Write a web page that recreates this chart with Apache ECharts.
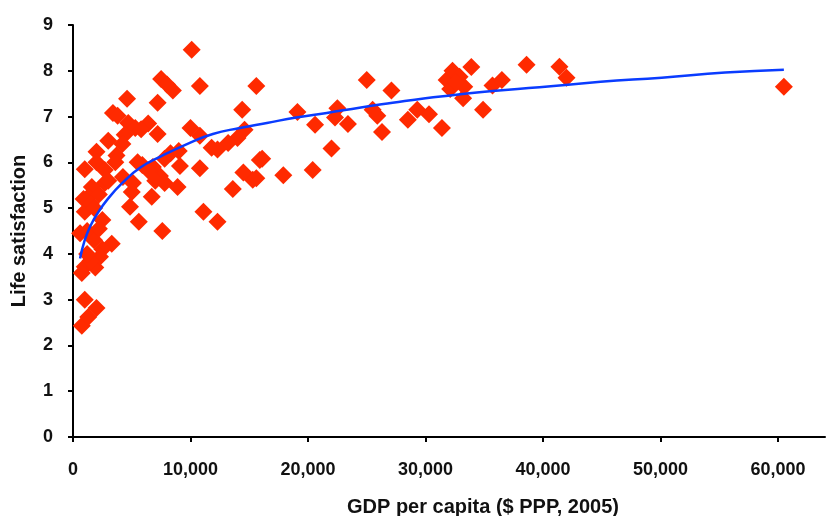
<!DOCTYPE html>
<html>
<head>
<meta charset="utf-8">
<script src="https://cdn.jsdelivr.net/npm/echarts@6/dist/echarts.min.js"></script>
<style>
  html, body { margin: 0; padding: 0; background: #fff; }
  #chart { width: 827px; height: 516px; }
</style>
</head>
<body>
<div id="chart"></div>
<script>
// countries: GDP per capita and life satisfaction
const gdp = [
  10100, 10800, 15600, 7500, 8000, 8500, 4600, 7200, 3400, 3800,
  14400, 6400, 4700, 5300, 5800, 7200, 4400, 3000, 10000, 10800,
  14600, 14000, 13200, 11800, 12300, 2000, 2000, 3700, 1000, 3600,
  5500, 6800, 7800, 9100, 10800, 16100, 17900, 13600, 15300, 14500,
  7400, 7800, 8900, 6700, 5100, 5000, 4850, 5600, 7600, 11100,
  12300, 3300, 2700, 2700, 1600, 1300, 900, 1000, 600, 2500,
  2500, 1000, 750, 1900, 1000, 2000, 750, 1300, 4250, 5900,
  2300, 1500, 25000, 27100, 19100, 20600, 22500, 22300, 23400, 25500,
  25900, 26300, 28500, 29300, 30300, 31400, 22000, 15900, 20400, 15600,
  31800, 32300, 32900, 33900, 33300, 32100, 33200, 38600, 41400, 42000,
  35700, 36500, 34900, 60500, 32600, 1200, 1800, 1500, 2200, 3000,
  8300, 9000, 6500, 7000, 1800, 4200, 1200, 2200
];
const lifeSat = [
  8.46, 7.67, 7.67, 7.82, 7.7, 7.57, 7.39, 7.3, 7.08, 7.02,
  7.15, 6.85, 6.86, 6.75, 6.72, 6.62, 6.6, 6.47, 6.75, 6.58,
  6.71, 6.53, 6.42, 6.32, 6.28, 6.23, 6.0, 6.15, 5.85, 6.0,
  6.0, 5.9, 6.08, 5.92, 5.87, 6.08, 5.72, 5.42, 5.62, 5.78,
  5.7, 5.55, 5.46, 5.25, 5.55, 5.35, 5.03, 4.7, 4.5, 4.92,
  4.7, 4.22, 5.83, 5.55, 5.46, 5.24, 5.2, 4.92, 4.45, 4.74,
  4.1, 3.72, 3.58, 3.7, 3.0, 2.82, 2.43, 2.62, 5.68, 5.94,
  3.94, 3.85, 7.8, 7.57, 7.1, 6.82, 7.18, 6.98, 6.84, 7.15,
  7.02, 6.66, 6.93, 7.15, 7.05, 6.75, 6.3, 6.05, 5.83, 5.65,
  7.8, 8.0, 7.87, 8.08, 7.65, 7.6, 7.4, 8.13, 8.09, 7.85,
  7.68, 7.8, 7.15, 7.65, 7.75, 4.5, 4.3, 5.1, 5.3, 5.6,
  6.2, 6.25, 5.8, 5.6, 5.0, 6.4, 4.0, 4.55
];

// trend line, points
const fitGdp = [600, 1000, 1500, 2100, 2900, 4200, 5700, 7400, 9700, 11900,
  14200, 16500, 19000, 21600, 24500, 27200, 30000, 32100, 35700, 39700,
  44900, 50100, 55500, 60500];
const fitSat = [3.9, 4.3, 4.62, 4.89, 5.18, 5.55, 5.88, 6.12, 6.4, 6.62,
  6.75, 6.86, 6.98, 7.08, 7.2, 7.3, 7.4, 7.46, 7.56, 7.64,
  7.76, 7.85, 7.96, 8.02];

const xTicks = [0, 10000, 20000, 30000, 40000, 50000, 60000];

const chart = echarts.init(document.getElementById("chart"));
const font = "'Liberation Sans', Arial, sans-serif";
const axisLine = { lineStyle: { color: "#000", width: 2 } };

chart.setOption({
  animation: false,
  grid: { left: 73, right: 2, top: 25, bottom: 79, outerBoundsMode: "none" },
  xAxis: {
    type: "value",
    min: 0,
    max: 64000,
    interval: 10000,
    splitLine: { show: false },
    axisLine: axisLine,
    axisTick: { customValues: xTicks, length: 5, lineStyle: { color: "#000", width: 2 } },
    axisLabel: {
      customValues: xTicks,
      margin: 24,
      color: "#111",
      fontFamily: font,
      fontWeight: "bold",
      fontSize: 18,
      formatter: (v) => v.toLocaleString("en-US"),
    },
    name: "GDP per capita ($ PPP, 2005)",
    nameLocation: "middle",
    nameGap: 60,
    nameTextStyle: {
      color: "#111",
      fontFamily: font,
      fontWeight: "bold",
      fontSize: 20,
      padding: [0, 0, 0, 68],
    },
  },
  yAxis: {
    type: "value",
    min: 0,
    max: 9,
    interval: 1,
    splitLine: { show: false },
    axisLine: axisLine,
    axisTick: { length: 5, lineStyle: { color: "#000", width: 2 } },
    axisLabel: {
      margin: 20,
      color: "#111",
      fontFamily: font,
      fontWeight: "bold",
      fontSize: 18,
    },
    name: "Life satisfaction",
    nameLocation: "middle",
    nameGap: 44,
    nameTextStyle: {
      color: "#111",
      fontFamily: font,
      fontWeight: "bold",
      fontSize: 20,
    },
  },
  series: [
    {
      type: "scatter",
      symbol: "diamond",
      symbolSize: 18,
      itemStyle: { color: "#ff2a00", opacity: 1 },
      data: gdp.map((g, i) => [g, lifeSat[i]]),
      z: 2,
    },
    {
      type: "line",
      smooth: true,
      showSymbol: false,
      lineStyle: { color: "#0a3cff", width: 2.5 },
      data: fitGdp.map((g, i) => [g, fitSat[i]]),
      z: 3,
    },
  ],
});
</script>
</body>
</html>
